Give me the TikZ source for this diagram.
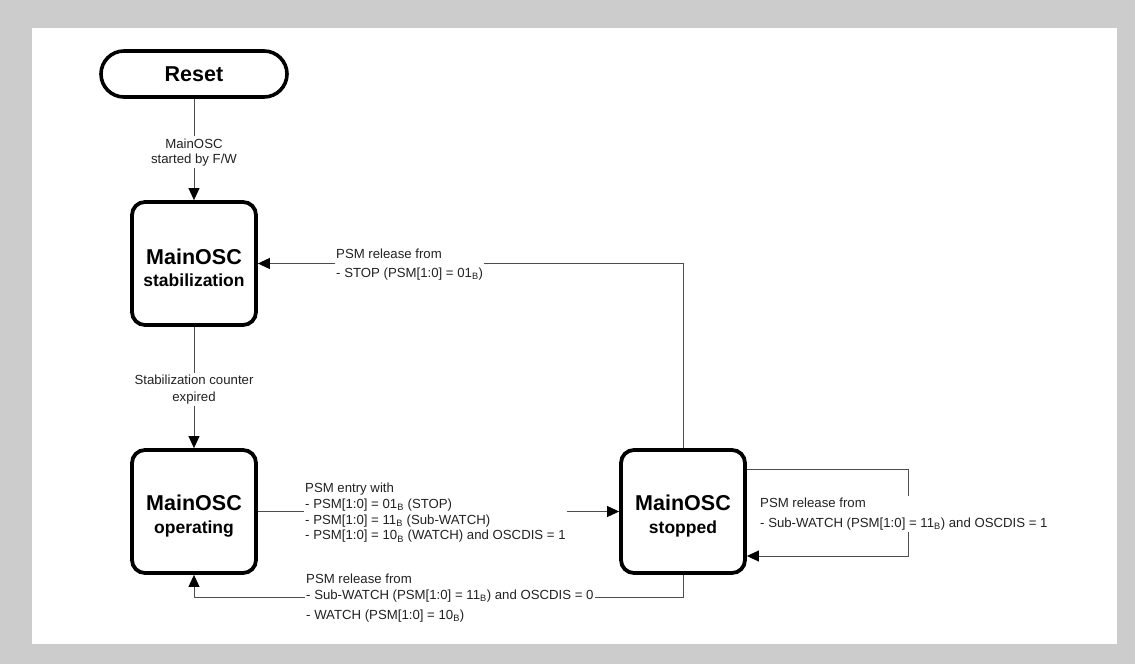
\documentclass[tikz,border=0pt]{standalone}
\usepackage{fontspec}
\setmainfont{Liberation Sans}
\usetikzlibrary{arrows.meta}
\definecolor{bggray}{HTML}{CCCCCC}
\definecolor{linegray}{HTML}{4D4D4D}
\definecolor{txtgray}{HTML}{222222}
\newcommand\sB{\textsubscript{B}}
\begin{document}
\begin{tikzpicture}[x=1pt,y=-1pt,
  statebox/.style={draw=black,line width=3.8pt,rounded corners=13pt,
    minimum width=124pt,minimum height=123pt,align=center,inner sep=0pt,
    fill=white,text height=47pt,font=\bfseries\fontsize{17.5}{22.5}\selectfont},
  resetbox/.style={draw=black,line width=3.6pt,rounded corners=23pt,
    minimum width=186pt,minimum height=46pt,inner sep=0pt,fill=white,
    font=\bfseries\fontsize{21.5}{24}\selectfont},
  conn/.style={draw=linegray,line width=0.9pt,
    -{Triangle[length=12pt,width=11pt,fill=black,color=black]}},
  lbl/.style={fill=white,text=txtgray,inner xsep=1pt,inner ysep=2pt,
    font=\fontsize{13.2}{15.7}\selectfont}
]
\useasboundingbox (0,0) rectangle (1135,664);
\fill[bggray] (0,0) rectangle (1135,664);
\fill[white] (32,28) rectangle (1117,644);

\node[resetbox] (reset) at (194,74) {Reset};
\node[statebox] (stab) at (194,263.5) {{\fontsize{21.5}{24}\selectfont MainOSC}\\stabilization};
\node[statebox] (oper) at (194,511.5) {{\fontsize{21.5}{24}\selectfont MainOSC}\\operating};
\node[statebox] (stop) at (683,511.5) {{\fontsize{21.5}{24}\selectfont MainOSC}\\stopped};

% Reset -> stabilization
\draw[conn] (reset) -- (stab) node[lbl,pos=0.53,align=center,inner xsep=0pt] (l1) {MainOSC\\started by F/W};
% stabilization -> operating
\draw[conn] (stab) -- (oper) node[lbl,pos=0.52,align=center,inner xsep=0pt,
  font=\fontsize{13.2}{16.8}\selectfont] (l2) {Stabilization counter\\expired};

% operating -> stopped
\draw[conn] (oper) -- (stop);
\node[lbl,anchor=west,align=left] (l3) at (304,513)
  {PSM entry with\\- PSM[1:0] = 01\sB{} (STOP)\\- PSM[1:0] = 11\sB{} (Sub-WATCH)\\- PSM[1:0] = 10\sB{} (WATCH) and OSCDIS = 1};

% stopped -> stabilization
\draw[conn] (stop.north) |- (stab.east);
\node[lbl,anchor=west,align=left] (l4) at (335,264.5)
  {PSM release from\\[4pt]- STOP (PSM[1:0] = 01\sB)};

% stopped -> operating
\coordinate (bl) at (683,597.5);
\draw[conn] (stop.south) -- (bl) -| (oper.south);
\node[lbl,anchor=west,align=left] (l5) at (305,598)
  {PSM release from\\- Sub-WATCH (PSM[1:0] = 11\sB) and OSCDIS = 0\\[4pt]- WATCH (PSM[1:0] = 10\sB)};

% self loop on stopped
\coordinate (lt) at (908,469);
\coordinate (lb) at (908,556);
\draw[conn] (stop.east |- lt) -- (lt) -- (lb) -- (stop.east |- lb);
\node[lbl,anchor=west,align=left] (l6) at (759,514)
  {PSM release from\\[4pt]- Sub-WATCH (PSM[1:0] = 11\sB) and OSCDIS = 1};
\end{tikzpicture}
\end{document}
